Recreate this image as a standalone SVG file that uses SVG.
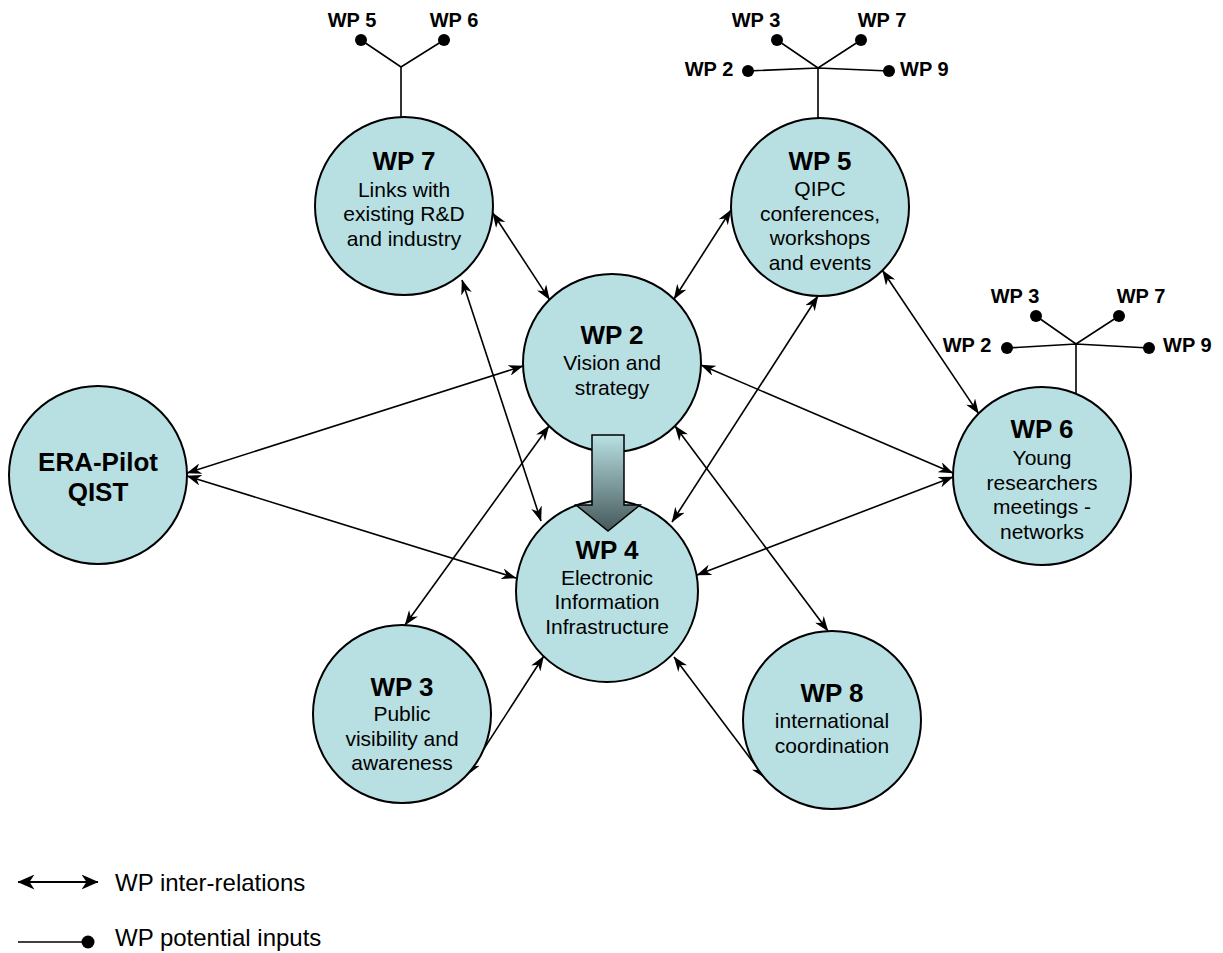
<svg xmlns="http://www.w3.org/2000/svg" width="1223" height="953" viewBox="0 0 1223 953">
<style>
.node{fill:#b8e0e3;stroke:#000;stroke-width:2}
.t{font-family:"Liberation Sans",Arial,sans-serif;font-weight:bold;font-size:26px;text-anchor:middle;fill:#000}
.b{font-family:"Liberation Sans",Arial,sans-serif;font-size:21px;text-anchor:middle;fill:#000}
.f{font-family:"Liberation Sans",Arial,sans-serif;font-weight:bold;font-size:20px;fill:#000}
.lg{font-family:"Liberation Sans",Arial,sans-serif;font-size:24px;fill:#000}
.c{stroke:#000;stroke-width:1.6;fill:none;marker-start:url(#ah);marker-end:url(#ah)}
.cl{stroke:#000;stroke-width:2;fill:none;marker-start:url(#ahl);marker-end:url(#ahl)}
.fan{stroke:#000;stroke-width:1.6;fill:none}
.dot{fill:#000}
</style>
<defs>
<marker id="ah" viewBox="0 0 15 11" refX="14.5" refY="5.5" markerWidth="15" markerHeight="11" markerUnits="userSpaceOnUse" orient="auto-start-reverse">
<path d="M0,0 L15,5.5 L0,11 L4.5,5.5 Z" fill="#000"/>
</marker>
<marker id="ahl" viewBox="0 0 17 15" refX="16.5" refY="7.5" markerWidth="17" markerHeight="15" markerUnits="userSpaceOnUse" orient="auto-start-reverse">
<path d="M0,0 L17,7.5 L0,15 L5,7.5 Z" fill="#000"/>
</marker>
<linearGradient id="ag" x1="0" y1="0" x2="0" y2="1">
<stop offset="0" stop-color="#b8e0e3"/>
<stop offset="1" stop-color="#45585a"/>
</linearGradient>
</defs>
<rect width="1223" height="953" fill="#fff"/>

<g id="connectors">
<line class="c" x1="492.7" y1="212.8" x2="549.5" y2="299.6"/>
<line class="c" x1="731" y1="210" x2="674" y2="299"/>
<line class="c" x1="462" y1="280" x2="541" y2="521"/>
<line class="c" x1="549" y1="426" x2="405" y2="625"/>
<line class="c" x1="543.6" y1="656.3" x2="467" y2="775"/>
<line class="c" x1="818" y1="296" x2="672" y2="522"/>
<line class="c" x1="675" y1="426" x2="828" y2="631"/>
<line class="c" x1="674" y1="657" x2="765" y2="778"/>
<line class="c" x1="882.5" y1="270.5" x2="978.6" y2="413.6"/>
<line class="c" x1="701" y1="365" x2="953" y2="473"/>
<line class="c" x1="697" y1="575" x2="953" y2="477"/>
<line class="c" x1="187" y1="473" x2="523" y2="366"/>
<line class="c" x1="187" y1="476" x2="516" y2="578"/>
</g>

<g id="fans">
<path class="fan" d="M401,117 L401,67 M361,40 L401,67 L444,40"/>
<circle class="dot" cx="361" cy="40" r="6"/>
<circle class="dot" cx="444" cy="40" r="6"/>
<text class="f" x="352" y="27" text-anchor="middle">WP 5</text>
<text class="f" x="454" y="27" text-anchor="middle">WP 6</text>

<path class="fan" d="M818,118 L818,68 M777,40 L818,68 L861,40 M748,71 L818,68 L889,71"/>
<circle class="dot" cx="777" cy="40" r="6"/>
<circle class="dot" cx="861" cy="40" r="6"/>
<circle class="dot" cx="748" cy="71" r="6"/>
<circle class="dot" cx="889" cy="71" r="6"/>
<text class="f" x="756" y="27" text-anchor="middle">WP 3</text>
<text class="f" x="882" y="27" text-anchor="middle">WP 7</text>
<text class="f" x="709" y="76" text-anchor="middle">WP 2</text>
<text class="f" x="900" y="76">WP 9</text>

<path class="fan" d="M1076,393 L1076,344 M1036,316 L1076,344 L1119,316 M1007,348 L1076,344 L1149,348"/>
<circle class="dot" cx="1036" cy="316" r="6"/>
<circle class="dot" cx="1119" cy="316" r="6"/>
<circle class="dot" cx="1007" cy="348" r="6"/>
<circle class="dot" cx="1149" cy="348" r="6"/>
<text class="f" x="1015" y="303" text-anchor="middle">WP 3</text>
<text class="f" x="1141" y="303" text-anchor="middle">WP 7</text>
<text class="f" x="967" y="352" text-anchor="middle">WP 2</text>
<text class="f" x="1163" y="352">WP 9</text>
</g>

<g id="era">
<circle class="node" cx="98" cy="475" r="89"/>
<text class="t" x="98" y="471">ERA-Pilot</text>
<text class="t" x="98" y="501">QIST</text>
</g>

<g id="wp7">
<circle class="node" cx="404" cy="206" r="89"/>
<text class="t" x="404" y="170">WP 7</text>
<text class="b" x="404" y="197">Links with</text>
<text class="b" x="404" y="221">existing R&amp;D</text>
<text class="b" x="404" y="246">and industry</text>
</g>

<g id="wp5">
<circle class="node" cx="820" cy="207" r="89"/>
<text class="t" x="820" y="170">WP 5</text>
<text class="b" x="820" y="196">QIPC</text>
<text class="b" x="820" y="221">conferences,</text>
<text class="b" x="820" y="245">workshops</text>
<text class="b" x="820" y="270">and events</text>
</g>

<g id="wp2">
<circle class="node" cx="612" cy="363" r="89"/>
<text class="t" x="612" y="344">WP 2</text>
<text class="b" x="612" y="370">Vision and</text>
<text class="b" x="612" y="395">strategy</text>
</g>

<g id="wp6">
<circle class="node" cx="1042" cy="476" r="89"/>
<text class="t" x="1042" y="438">WP 6</text>
<text class="b" x="1042" y="465">Young</text>
<text class="b" x="1042" y="490">researchers</text>
<text class="b" x="1042" y="514">meetings -</text>
<text class="b" x="1042" y="539">networks</text>
</g>

<g id="wp4">
<circle class="node" cx="607" cy="591" r="91"/>
<text class="t" x="607" y="559">WP 4</text>
<text class="b" x="607" y="585">Electronic</text>
<text class="b" x="607" y="609">Information</text>
<text class="b" x="607" y="634">Infrastructure</text>
</g>

<g id="wp3">
<circle class="node" cx="402" cy="714" r="89"/>
<text class="t" x="402" y="696">WP 3</text>
<text class="b" x="402" y="721">Public</text>
<text class="b" x="402" y="746">visibility and</text>
<text class="b" x="402" y="770">awareness</text>
</g>

<g id="wp8">
<circle class="node" cx="832" cy="720" r="89"/>
<text class="t" x="832" y="702">WP 8</text>
<text class="b" x="832" y="728">international</text>
<text class="b" x="832" y="753">coordination</text>
</g>

<g id="bigarrow">
<path d="M592,435 L624,435 L624,505 L640,505 L608,531 L576,505 L592,505 Z" fill="url(#ag)" stroke="#000" stroke-width="1.5"/>
</g>

<g id="legend">
<line class="cl" x1="18" y1="882" x2="98" y2="882"/>
<text class="lg" x="115" y="891">WP inter-relations</text>
<line class="fan" x1="18" y1="942" x2="88" y2="942" stroke-width="2"/>
<circle class="dot" cx="88" cy="942" r="6.5"/>
<text class="lg" x="115" y="946">WP potential inputs</text>
</g>
</svg>
